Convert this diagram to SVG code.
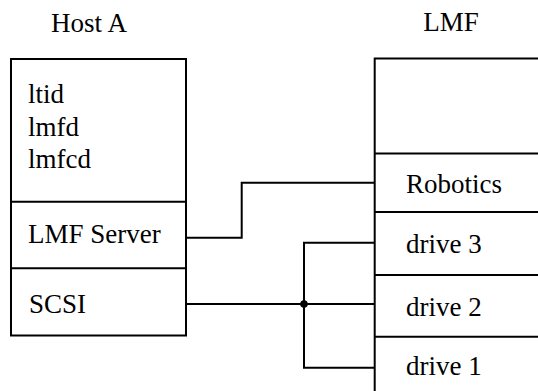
<svg xmlns="http://www.w3.org/2000/svg" width="538" height="391" viewBox="0 0 538 391">
  <style>
    .box { fill: none; stroke: #000; stroke-width: 2; }
    .wire { fill: none; stroke: #000; stroke-width: 2; }
  </style>
  <rect width="538" height="391" fill="#fff"/>

  <!-- Host A -->
  <g id="host-a">
    <text font-family="Liberation Serif" font-size="27" text-anchor="middle" x="89" y="31.5">Host A</text>
    <rect class="box" x="11" y="59" width="175" height="276.5"/>
    <line class="box" x1="11" y1="201.7" x2="186" y2="201.7"/>
    <line class="box" x1="11" y1="268.3" x2="186" y2="268.3"/>
    <text font-family="Liberation Serif" font-size="27" x="28" y="103">ltid</text>
    <text font-family="Liberation Serif" font-size="27" x="28" y="136">lmfd</text>
    <text font-family="Liberation Serif" font-size="27" x="28" y="168">lmfcd</text>
  </g>
  <g id="lmf-server">
    <text font-family="Liberation Serif" font-size="27" x="28" y="243">LMF Server</text>
  </g>
  <g id="scsi">
    <text font-family="Liberation Serif" font-size="27" x="29" y="312.5">SCSI</text>
  </g>

  <!-- LMF library -->
  <g id="lmf">
    <text font-family="Liberation Serif" font-size="27" text-anchor="middle" x="451" y="30.5">LMF</text>
    <path class="box" d="M374.7,391 V58.5 H540"/>
    <line class="box" x1="374.7" y1="153.5" x2="540" y2="153.5"/>
    <line class="box" x1="374.7" y1="212" x2="540" y2="212"/>
    <line class="box" x1="374.7" y1="275" x2="540" y2="275"/>
    <line class="box" x1="374.7" y1="336.7" x2="540" y2="336.7"/>
  </g>
  <g id="robotics">
    <text font-family="Liberation Serif" font-size="27" x="406" y="192.5">Robotics</text>
  </g>
  <g id="drive-3">
    <text font-family="Liberation Serif" font-size="27" x="406" y="253">drive 3</text>
  </g>
  <g id="drive-2">
    <text font-family="Liberation Serif" font-size="27" x="406" y="315.5">drive 2</text>
  </g>
  <g id="drive-1">
    <text font-family="Liberation Serif" font-size="27" x="406" y="375">drive 1</text>
  </g>

  <!-- Connectors -->
  <g id="connectors">
    <path class="wire" d="M186,237.7 H241.7 V182.7 H374.7"/>
    <path class="wire" d="M186,304 H374.7"/>
    <path class="wire" d="M374.7,242.7 H304 V367.7 H374.7"/>
    <circle cx="304" cy="304" r="3.8" fill="#000"/>
  </g>
</svg>
